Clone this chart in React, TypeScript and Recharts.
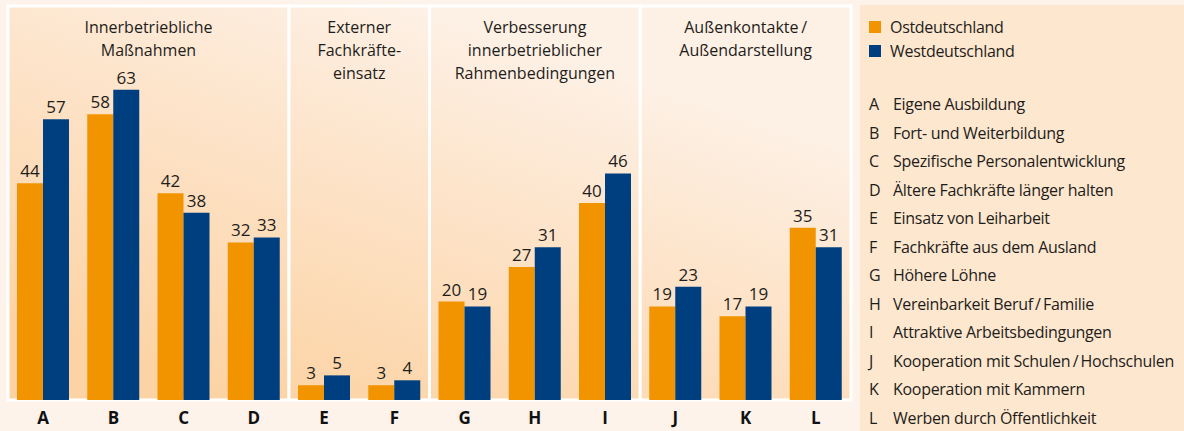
import React from "react";
import {
  BarChart,
  Bar,
  XAxis,
  YAxis,
  ReferenceArea,
  LabelList,
} from "recharts";

const categories = ["A", "B", "C", "D", "E", "F", "G", "H", "I", "J", "K", "L"];
const ostValues = [44, 58, 42, 32, 3, 3, 20, 27, 40, 19, 17, 35];
const westValues = [57, 63, 38, 33, 5, 4, 19, 31, 46, 23, 19, 31];

const categoryNames = [
  "Eigene Ausbildung",
  "Fort- und Weiterbildung",
  "Spezifische Personalentwicklung",
  "Ältere Fachkräfte länger halten",
  "Einsatz von Leiharbeit",
  "Fachkräfte aus dem Ausland",
  "Höhere Löhne",
  "Vereinbarkeit Beruf\u2009/\u2009Familie",
  "Attraktive Arbeitsbedingungen",
  "Kooperation mit Schulen\u2009/\u2009Hochschulen",
  "Kooperation mit Kammern",
  "Werben durch Öffentlichkeit",
];

const groups = [
  { from: "A", to: "D", title: ["Innerbetriebliche", "Maßnahmen"] },
  { from: "E", to: "F", title: ["Externer", "Fachkräfte-", "einsatz"] },
  { from: "G", to: "I", title: ["Verbesserung", "innerbetrieblicher", "Rahmenbedingungen"] },
  { from: "J", to: "L", title: ["Außenkontakte\u2009/", "Außendarstellung"] },
];

const seriesNames = ["Ostdeutschland", "Westdeutschland"];

const ORANGE = "#f29400";
const BLUE = "#003f7f";
const FONT = "'Open Sans', sans-serif";

const data = categories.map((c, i) => ({
  cat: c,
  ost: ostValues[i],
  west: westValues[i],
}));

function GroupTitle({ viewBox, lines }: any) {
  if (!viewBox) return null;
  const cx = viewBox.x + viewBox.width / 2;
  return (
    <text
      x={cx}
      y={viewBox.y + 27}
      textAnchor="middle"
      fontFamily={FONT}
      fontSize={16}
      fill="#1d1d1b"
    >
      {lines.map((l: string, i: number) => (
        <tspan key={i} x={cx} dy={i === 0 ? 0 : 23}>
          {l}
        </tspan>
      ))}
    </text>
  );
}

export default function App() {
  return (
    <div
      style={{
        position: "relative",
        width: 1184,
        height: 431,
        background: "#fdf3ea",
        overflow: "hidden",
        fontFamily: FONT,
      }}
    >
      <style>{`body{margin:0}`}</style>
      <BarChart
        width={853}
        height={431}
        data={data}
        margin={{ top: 6, right: 2, bottom: 0, left: 8 }}
        barGap={0}
        barSize={26}
      >
        <defs>
          <linearGradient
            id="panelBg"
            gradientUnits="userSpaceOnUse"
            x1={250}
            y1={400}
            x2={380}
            y2={0}
          >
            <stop offset="0%" stopColor="#fcd3a4" />
            <stop offset="55%" stopColor="#fde2c6" />
            <stop offset="100%" stopColor="#fdf0e4" />
          </linearGradient>
        </defs>
        {groups.map((g) => (
          <ReferenceArea
            key={g.from}
            x1={g.from}
            x2={g.to}
            fill="url(#panelBg)"
            fillOpacity={1}
            stroke="#ffffff"
            strokeWidth={3}
            ifOverflow="visible"
            label={<GroupTitle lines={g.title} />}
          />
        ))}
        <XAxis
          dataKey="cat"
          axisLine={false}
          tickLine={false}
          height={31}
          interval={0}
          tick={{ fontFamily: FONT, fontSize: 17, fontWeight: 700, fill: "#111" }}
          dy={4}
        />
        <YAxis hide domain={[0, 80]} />
        <Bar dataKey="ost" name={seriesNames[0]} fill={ORANGE} isAnimationActive={false}>
          <LabelList
            dataKey="ost"
            position="top"
            offset={6}
            style={{ fontFamily: FONT, fontSize: 17, fill: "#1d1d1b" }}
          />
        </Bar>
        <Bar dataKey="west" name={seriesNames[1]} fill={BLUE} isAnimationActive={false}>
          <LabelList
            dataKey="west"
            position="top"
            offset={6}
            style={{ fontFamily: FONT, fontSize: 17, fill: "#1d1d1b" }}
          />
        </Bar>
      </BarChart>

      <div
        style={{
          position: "absolute",
          left: 860,
          top: 5,
          width: 324,
          height: 426,
          background: "#fde7cf",
          color: "#1d1d1b",
          fontSize: 16,
          letterSpacing: -0.3,
        }}
      >
        {seriesNames.map((s, i) => (
          <div
            key={s}
            style={{
              position: "absolute",
              left: 9,
              top: 11 + i * 24,
              height: 22,
              display: "flex",
              alignItems: "center",
              whiteSpace: "nowrap",
            }}
          >
            <span
              style={{
                width: 12,
                height: 12,
                background: i === 0 ? ORANGE : BLUE,
                marginRight: 9,
              }}
            />
            {s}
          </div>
        ))}
        {categories.map((c, i) => (
          <div
            key={c}
            style={{
              position: "absolute",
              left: 9,
              top: 88 + i * 28.5,
              height: 22,
              display: "flex",
              alignItems: "center",
              whiteSpace: "nowrap",
            }}
          >
            <span style={{ width: 24, display: "inline-block" }}>{c}</span>
            {categoryNames[i]}
          </div>
        ))}
      </div>
    </div>
  );
}
